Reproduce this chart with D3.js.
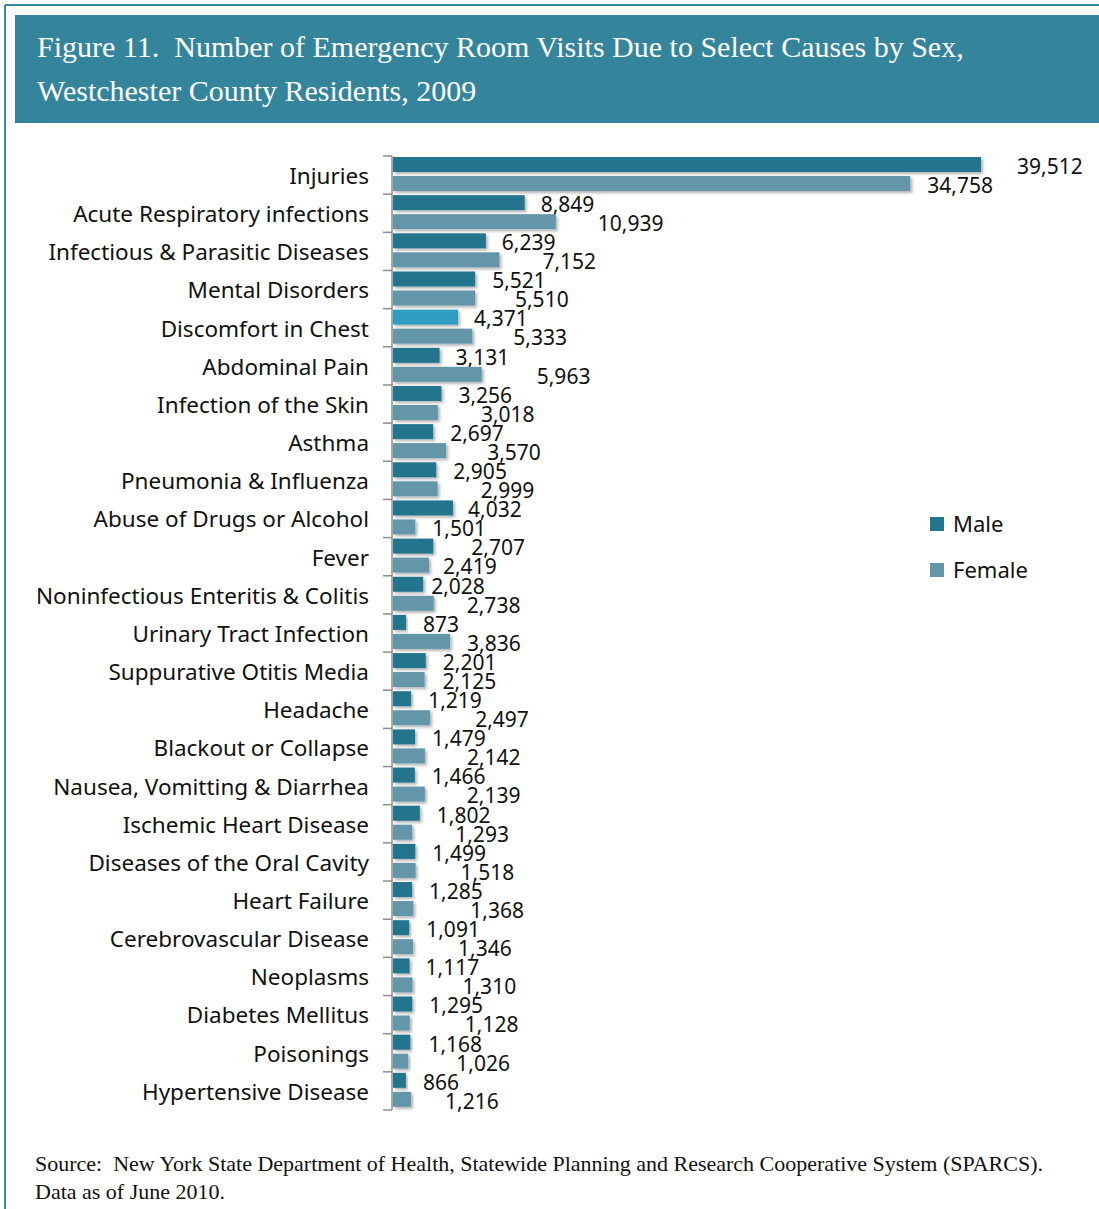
<!DOCTYPE html>
<html>
<head>
<meta charset="utf-8">
<script src="https://cdn.jsdelivr.net/npm/d3@7"></script>
<style>
  body { margin: 0; background: #fff; }
  svg { display: block; }
</style>
</head>
<body>
<div id="chart"></div>
<script>
var categories = [
    "Injuries", "Acute Respiratory infections", "Infectious & Parasitic Diseases",
    "Mental Disorders", "Discomfort in Chest", "Abdominal Pain", "Infection of the Skin",
    "Asthma", "Pneumonia & Influenza", "Abuse of Drugs or Alcohol", "Fever",
    "Noninfectious Enteritis & Colitis", "Urinary Tract Infection", "Suppurative Otitis Media",
    "Headache", "Blackout or Collapse", "Nausea, Vomitting & Diarrhea", "Ischemic Heart Disease",
    "Diseases of the Oral Cavity", "Heart Failure", "Cerebrovascular Disease", "Neoplasms",
    "Diabetes Mellitus", "Poisonings", "Hypertensive Disease"
];
var male = [39512, 8849, 6239, 5521, 4371, 3131, 3256, 2697, 2905, 4032, 2707, 2028, 873,
    2201, 1219, 1479, 1466, 1802, 1499, 1285, 1091, 1117, 1295, 1168, 866];
var female = [34758, 10939, 7152, 5510, 5333, 5963, 3018, 3570, 2999, 1501, 2419, 2738, 3836,
    2125, 2497, 2142, 2139, 1293, 1518, 1368, 1346, 1310, 1128, 1026, 1216];
var series = ["Male", "Female"];

var chart_width = 1099,
    chart_height = 1209;

var colors = { Male: "#23758d", Female: "#6396a8" };
var highlight = "#2e9fc0"; // Discomfort in Chest male bar stands out in the original

// the original's value labels were nudged by hand; gap (px) after each bar end
var nudgeMale = [36, 16, 16, 17, 16, 16, 17, 17, 17, 15, 38, 8, 17, 17, 17, 17, 17, 17, 17, 17, 17, 16, 17, 18, 17];
var nudgeFemale = [17, 42, 43, 40, 41, 55, 43, 41, 43, 17, 14, 33, 17, 18, 45, 42, 42, 43, 45, 57, 45, 50, 55, 48, 34];

var svg = d3.select("#chart")
    .append("svg")
    .attr("width", chart_width)
    .attr("height", chart_height);

// soft shadow under the bars
var defs = svg.append("defs");
var shadow = defs.append("filter").attr("id", "shadow")
    .attr("x", "-5%").attr("y", "-30%").attr("width", "120%").attr("height", "180%");
shadow.append("feDropShadow")
    .attr("dx", 2).attr("dy", 2).attr("stdDeviation", 1.5)
    .attr("flood-color", "#000").attr("flood-opacity", 0.3);

// frame
svg.append("line").attr("x1", 5).attr("x2", 5).attr("y1", 5).attr("y2", chart_height)
    .attr("stroke", "#3a8aa2").attr("stroke-width", 2);
svg.append("line").attr("x1", 5).attr("x2", chart_width).attr("y1", 5).attr("y2", 5)
    .attr("stroke", "#3a8aa2").attr("stroke-width", 2);

// title band
svg.append("rect")
    .attr("x", 15).attr("y", 15)
    .attr("width", chart_width - 15).attr("height", 108)
    .attr("fill", "#34849c");

var titleLines = [
    "Figure 11.  Number of Emergency Room Visits Due to Select Causes by Sex,",
    "Westchester County Residents, 2009"
];
svg.selectAll(".title")
    .data(titleLines)
    .enter()
    .append("text")
    .attr("class", "title")
    .attr("x", 37)
    .attr("y", function (d, i) { return 57 + i * 44; })
    .attr("fill", "#fff")
    .attr("font-family", "'Liberation Serif', serif")
    .attr("font-size", 30)
    .style("white-space", "pre")
    .text(function (d) { return d; });

// scales
var x = d3.scaleLinear()
    .domain([0, d3.max(male)])
    .range([393, 981]);

var y = d3.scaleBand()
    .domain(categories)
    .range([156, 1110])
    .paddingInner(0)
    .paddingOuter(0);

var barH = 15;

// axis line and ticks at category boundaries
var axis = svg.append("g").attr("stroke", "#8c8c8c").attr("stroke-width", 1.5);
axis.append("line")
    .attr("x1", 392).attr("x2", 392)
    .attr("y1", y.range()[0]).attr("y2", y.range()[1]);
axis.selectAll(".tick")
    .data(d3.range(categories.length + 1))
    .enter()
    .append("line")
    .attr("x1", 383).attr("x2", 392)
    .attr("y1", function (i) { return y.range()[0] + i * y.step(); })
    .attr("y2", function (i) { return y.range()[0] + i * y.step(); });

// category labels
svg.selectAll(".cat")
    .data(categories)
    .enter()
    .append("text")
    .attr("class", "cat")
    .attr("x", 369)
    .attr("y", function (d) { return y(d) + y.step() / 2 + 1; })
    .attr("dy", "0.35em")
    .attr("text-anchor", "end")
    .attr("font-family", "'Noto Sans', sans-serif")
    .attr("font-size", 22.5)
    .attr("fill", "#111")
    .text(function (d) { return d; });

// bars
var rows = categories.map(function (c, i) {
    return { cat: c, i: i, Male: male[i], Female: female[i] };
});

var groups = svg.selectAll(".row")
    .data(rows)
    .enter()
    .append("g")
    .attr("class", "row")
    .attr("transform", function (d) { return "translate(0," + y(d.cat) + ")"; });

series.forEach(function (s, si) {
    var nudge = s === "Male" ? nudgeMale : nudgeFemale;

    groups.append("rect")
        .attr("x", x(0))
        .attr("y", 1 + si * 19)
        .attr("width", function (d) { return x(d[s]) - x(0); })
        .attr("height", barH)
        .attr("fill", function (d) {
            return (s === "Male" && d.cat === "Discomfort in Chest") ? highlight : colors[s];
        })
        .attr("filter", "url(#shadow)");

    groups.append("text")
        .attr("x", function (d) { return x(d[s]) + nudge[d.i]; })
        .attr("y", 1 + si * 19 + barH / 2 + 2)
        .attr("dy", "0.35em")
        .attr("font-family", "'Noto Sans', sans-serif")
        .attr("font-size", 21)
        .attr("fill", "#111")
        .text(function (d) { return d3.format(",")(d[s]); });
});

// legend
var legend = svg.selectAll(".legend")
    .data(series)
    .enter()
    .append("g")
    .attr("class", "legend")
    .attr("transform", function (d, i) { return "translate(930," + (517 + i * 46) + ")"; });
legend.append("rect")
    .attr("width", 14).attr("height", 14)
    .attr("fill", function (d) { return colors[d]; });
legend.append("text")
    .attr("x", 23).attr("y", 7).attr("dy", "0.35em")
    .attr("font-family", "'Noto Sans', sans-serif")
    .attr("font-size", 22)
    .attr("fill", "#111")
    .text(function (d) { return d; });

// source note
var notes = [
    "Source:  New York State Department of Health, Statewide Planning and Research Cooperative System (SPARCS).",
    "Data as of June 2010."
];
svg.selectAll(".note")
    .data(notes)
    .enter()
    .append("text")
    .attr("class", "note")
    .attr("x", 35)
    .attr("y", function (d, i) { return 1171 + i * 28; })
    .attr("font-family", "'Liberation Serif', serif")
    .attr("font-size", 22)
    .attr("fill", "#111")
    .style("white-space", "pre")
    .text(function (d) { return d; });
</script>
</body>
</html>
